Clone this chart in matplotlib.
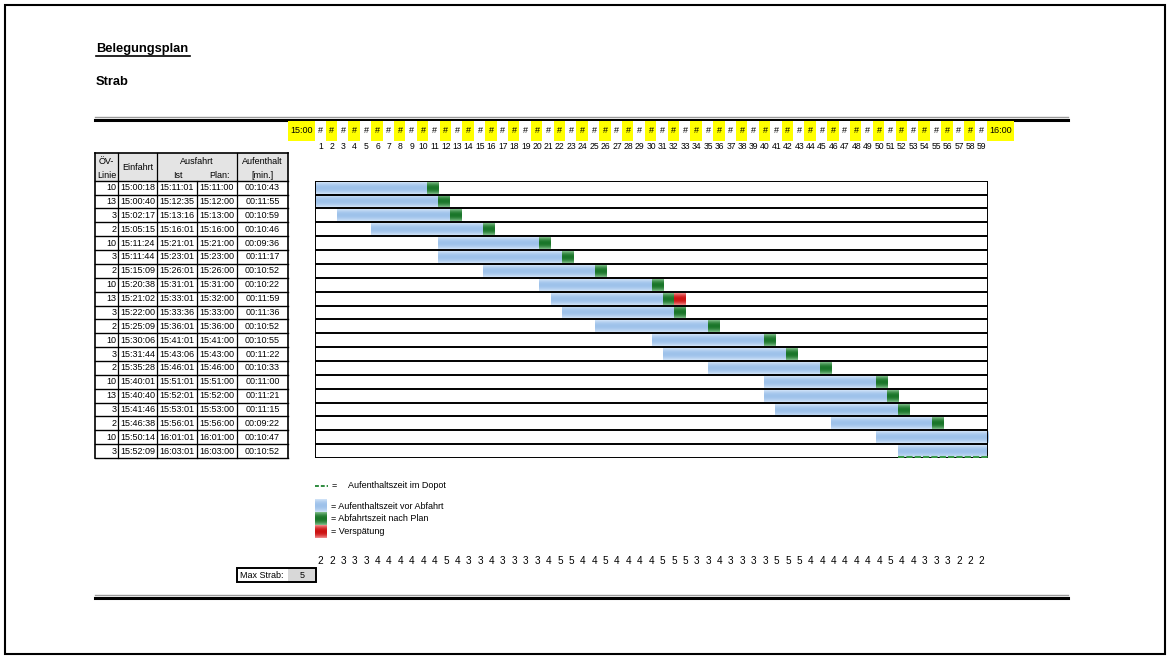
import numpy as np
import matplotlib
matplotlib.use("Agg")
import matplotlib.pyplot as plt
from matplotlib import font_manager
from matplotlib.patches import Rectangle

# Belegungsplan Strab: Einfahrt / Ausfahrt je Zug, 15:00 - 16:00
linie = [10, 13, 3, 2, 10, 3, 2, 10, 13, 3, 2, 10, 3, 2, 10, 13, 3, 2, 10, 3]
einfahrt = ["15:00:18", "15:00:40", "15:02:17", "15:05:15", "15:11:24", "15:11:44",
            "15:15:09", "15:20:38", "15:21:02", "15:22:00", "15:25:09", "15:30:06",
            "15:31:44", "15:35:28", "15:40:01", "15:40:40", "15:41:46", "15:46:38",
            "15:50:14", "15:52:09"]
ausfahrt_ist = ["15:11:01", "15:12:35", "15:13:16", "15:16:01", "15:21:01", "15:23:01",
                "15:26:01", "15:31:01", "15:33:01", "15:33:36", "15:36:01", "15:41:01",
                "15:43:06", "15:46:01", "15:51:01", "15:52:01", "15:53:01", "15:56:01",
                "16:01:01", "16:03:01"]
ausfahrt_plan = ["15:11:00", "15:12:00", "15:13:00", "15:16:00", "15:21:00", "15:23:00",
                 "15:26:00", "15:31:00", "15:32:00", "15:33:00", "15:36:00", "15:41:00",
                 "15:43:00", "15:46:00", "15:51:00", "15:52:00", "15:53:00", "15:56:00",
                 "16:01:00", "16:03:00"]
aufenthalt = ["00:10:43", "00:11:55", "00:10:59", "00:10:46", "00:09:36", "00:11:17",
              "00:10:52", "00:10:22", "00:11:59", "00:11:36", "00:10:52", "00:10:55",
              "00:11:22", "00:10:33", "00:11:00", "00:11:21", "00:11:15", "00:09:22",
              "00:10:47", "00:10:52"]
depot_rows = [19]

# Strab im Betriebshof je Minute 1..59
minuten = list(range(1, 60))
belegung = [2, 2, 3, 3, 3, 4, 4, 4, 4, 4, 4, 5, 4, 3, 3, 4, 3, 3, 3, 3,
            4, 5, 5, 4, 4, 5, 4, 4, 4, 4, 5, 5, 5, 3, 3, 4, 3, 3, 3, 3,
            5, 5, 5, 4, 4, 4, 4, 4, 4, 4, 5, 4, 4, 3, 3, 3, 2, 2, 2]
max_strab = max(belegung)

W, H = 1170, 659
fig = plt.figure(figsize=(W / 100, H / 100), dpi=100)
fig.patch.set_facecolor("white")

names = {f.name for f in font_manager.fontManager.ttflist}
if "Liberation Sans Narrow" in names:
    NARROW, k = "Liberation Sans Narrow", 1.0
else:
    NARROW, k = "Liberation Sans", 0.88
plt.rcParams["font.family"] = [NARROW, "DejaVu Sans"]


def minuten_ab_15(s):
    h, m, sec = map(int, s.split(":"))
    return (h - 15) * 60 + m + sec / 60.0


def verlauf(ax, x0, x1, y0, y1, hell, dunkel, n=24):
    t = np.linspace(-1, 1, n)
    w = (1 - t ** 2)[:, None]
    col = np.array(hell)[None, :] * (1 - w) + np.array(dunkel)[None, :] * w
    ax.imshow(col[:, None, :], extent=(x0, x1, y1, y0), aspect="auto",
              interpolation="bilinear", zorder=2)


BLAU = ((0.82, 0.89, 0.97), (0.62, 0.76, 0.92))
GRUEN = ((0.50, 0.74, 0.54), (0.10, 0.46, 0.16))
ROT = ((0.95, 0.55, 0.55), (0.80, 0.07, 0.07))

# page layer in pixel units
page = fig.add_axes([0, 0, 1, 1])
page.set_xlim(0, W)
page.set_ylim(H, 0)
page.axis("off")

page.add_patch(Rectangle((5, 5), 1160, 649, fill=False, ec="black", lw=1.5))
for y_g, y_b in [(117, 120), (595, 598)]:
    page.plot([95, 1068], [y_g, y_g], color="#9a9a9a", lw=1.0)
    page.plot([95, 1068], [y_b, y_b], color="black", lw=2.2)

page.text(96, 49, "Belegungsplan", fontsize=9.3, fontweight="bold",
          family="Liberation Sans", va="center", ha="left")
page.plot([96, 190], [55.5, 55.5], color="black", lw=1.2)
page.text(96, 82, "Strab", fontsize=9.3, fontweight="bold",
          family="Liberation Sans", va="center", ha="left")

# table
row_top, row_h = 180.7, 13.87
cols = [95, 118.3, 157.3, 196.7, 236.7, 288.3]
head_top = 152.7
page.add_patch(Rectangle((cols[0], head_top), cols[-1] - cols[0], row_top - head_top,
                         fc="#e4e4e4", ec="none"))
fs_t = 7.4 * k
page.text((cols[0] + cols[1]) / 2, 161, "ÖV-", fontsize=fs_t, ha="center", va="center")
page.text((cols[0] + cols[1]) / 2, 175, "Linie", fontsize=fs_t, ha="center", va="center")
page.text((cols[1] + cols[2]) / 2, 167.5, "Einfahrt", fontsize=fs_t, ha="center", va="center")
page.text((cols[2] + cols[4]) / 2, 161, "Ausfahrt", fontsize=fs_t, ha="center", va="center")
page.text(178, 175, "Ist", fontsize=fs_t, ha="center", va="center")
page.text(220, 175, "Plan:", fontsize=fs_t, ha="center", va="center")
page.text((cols[4] + cols[5]) / 2, 161, "Aufenthalt", fontsize=fs_t, ha="center", va="center")
page.text((cols[4] + cols[5]) / 2, 175, "[min.]", fontsize=fs_t, ha="center", va="center")

n = len(linie)
table_bottom = row_top + n * row_h
for i in range(n):
    yc = row_top + (i + 0.5) * row_h
    page.text(cols[1] - 1.5, yc, str(linie[i]), fontsize=fs_t, ha="right", va="center")
    for j, val in enumerate([einfahrt[i], ausfahrt_ist[i], ausfahrt_plan[i], aufenthalt[i]]):
        page.text((cols[j + 1] + cols[j + 2]) / 2, yc, val, fontsize=fs_t,
                  ha="center", va="center")
for i in range(n + 1):
    y = row_top + i * row_h
    page.plot([cols[0], cols[-1]], [y, y], color="black", lw=1.0)
page.plot([cols[0], cols[-1]], [head_top, head_top], color="black", lw=1.2)
for j, x in enumerate(cols):
    y0 = head_top if j in (0, 1, 2, 4, 5) else row_top
    page.plot([x, x], [y0, table_bottom], color="black", lw=1.2 if j in (0, 5) else 0.9)

# Gantt chart, x in minutes after 15:00
g_left, g_right = 315, 988
gantt = fig.add_axes([g_left / W, 1 - table_bottom / H, (g_right - g_left) / W,
                      (table_bottom - row_top) / H])
for i in range(n):
    start = np.floor(minuten_ab_15(einfahrt[i]))
    plan = minuten_ab_15(ausfahrt_plan[i])
    ist = minuten_ab_15(ausfahrt_ist[i])
    y0, y1 = i + 0.07, i + 0.93
    verlauf(gantt, start, min(plan - 1, 60), y0, y1, *BLAU)
    if plan - 1 < 60:
        verlauf(gantt, plan - 1, min(plan, 60), y0, y1, *GRUEN)
    verspaetung = np.floor(ist - plan)
    if verspaetung >= 1:
        verlauf(gantt, plan, plan + verspaetung, y0, y1, *ROT)
gantt.hlines(np.arange(n + 1), 0, 60, color="black", lw=1.4, zorder=4)
gantt.vlines([0, 60], 0, n, color="black", lw=1.4, zorder=4)
for i in depot_rows:
    start = np.floor(minuten_ab_15(einfahrt[i]))
    gantt.plot([start, 60], [i + 0.92, i + 0.92], color="#3a9a4a", lw=1.5,
               ls=(0, (3, 1)), zorder=5)
gantt.set_xlim(0, 60)
gantt.set_ylim(n, 0)
gantt.axis("off")

# minute strip above and counts below, x in minute cells
strip = fig.add_axes([314.8 / W, 0, (987.4 - 314.8) / W, 1])
strip.set_xlim(0.5, 59.5)
strip.set_ylim(H, 0)
strip.axis("off")
gelb = ["#ffff00" if m % 2 == 0 else "white" for m in minuten]
strip.bar(minuten, 19.5, bottom=121, width=1.1, color=gelb, clip_on=False)
cell = 27 / 11.4
strip.bar([0.5 - cell / 2, 59.5 + cell / 2], 19.5, bottom=121, width=cell,
          color="#ffff00", clip_on=False)
fs_s = 7.4 * k
strip.text(0.5 - cell / 2, 130.8, "15:00", fontsize=fs_s, ha="center", va="center")
strip.text(59.5 + cell / 2, 130.8, "16:00", fontsize=fs_s, ha="center", va="center")
for m, b in zip(minuten, belegung):
    strip.text(m, 130.8, "#", fontsize=fs_s, ha="center", va="center")
    strip.text(m, 146.5, str(m), fontsize=fs_s * 0.95, ha="center", va="center")
    strip.text(m, 560.5, str(b), fontsize=fs_s * 1.1, ha="center", va="center")

# Max Strab box
page.add_patch(Rectangle((288, 568), 27.5, 14, fc="#d8d8d8", ec="none"))
page.add_patch(Rectangle((236.7, 568), 78.8, 14, fill=False, ec="black", lw=1.4))
page.text(240, 575, "Max Strab:", fontsize=fs_t, ha="left", va="center")
page.text(302, 575, str(max_strab), fontsize=fs_t, ha="center", va="center")

# legend
page.plot([315, 328], [485.7, 485.7], color="#2e8b3e", lw=1.4, ls=(0, (2, 1)))
page.text(332, 485.7, "=", fontsize=fs_t, ha="left", va="center")
page.text(348, 485.7, "Aufenthaltszeit im Dopot", fontsize=fs_t, ha="left", va="center")
legende = [(BLAU, 500, "= Aufenthaltszeit vor Abfahrt"),
           (GRUEN, 512.5, "= Abfahrtszeit nach Plan"),
           (ROT, 525.5, "= Verspätung")]
for farbe, y, txt in legende:
    verlauf(page, 315, 327, y, y + 12.5, *farbe)
    page.text(331, y + 6.3, txt, fontsize=fs_t, ha="left", va="center")
page.set_xlim(0, W)
page.set_ylim(H, 0)

fig.savefig("out.png", dpi=100)
